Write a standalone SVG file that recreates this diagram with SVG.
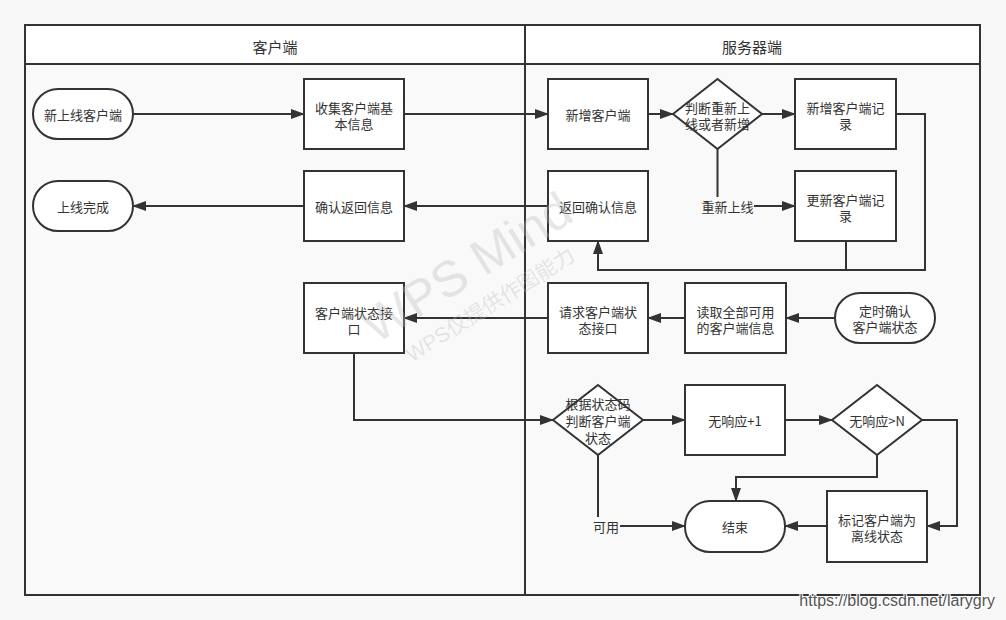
<svg xmlns="http://www.w3.org/2000/svg" width="1006" height="620" viewBox="0 0 1006 620">
<defs>
<style>
.frame{fill:none;stroke:#333;stroke-width:2}
.box{fill:#fff;stroke:#333;stroke-width:2}
.conn{fill:none;stroke:#333;stroke-width:2}
.t{font-family:"Noto Sans CJK SC","Liberation Sans",sans-serif;font-size:13px;fill:#333;text-anchor:middle;dominant-baseline:central}
.h{font-family:"Noto Sans CJK SC","Liberation Sans",sans-serif;font-size:15px;fill:#333;text-anchor:middle;dominant-baseline:central}
.lblbg{fill:#f9f9f9}
.wm{font-family:"Liberation Sans","Noto Sans CJK SC",sans-serif;fill:#bbb;fill-opacity:0.35;text-anchor:middle}
</style>
<marker id="arr" markerUnits="userSpaceOnUse" markerWidth="14" markerHeight="10" viewBox="0 0 14 10" refX="13" refY="5" orient="auto">
<path d="M0,0 L14,5 L0,10 z" fill="#333"/>
</marker>
</defs>
<rect x="0" y="0" width="1006" height="620" fill="#f8f8f8"/>
<g id="swimlanes">
<rect x="25" y="64" width="955" height="531" fill="#f9f9f9"/>
<rect x="25" y="25" width="955" height="39" fill="#fff"/>
<rect class="frame" x="25" y="25" width="955" height="570"/>
<line class="frame" x1="25" y1="64" x2="980" y2="64"/>
<line class="frame" x1="525" y1="25" x2="525" y2="595"/>
<text class="h" x="275" y="46">客户端</text>
<text class="h" x="752" y="46">服务器端</text>
</g>
<g id="connectors">
<path class="conn" d="M133,114 H304" marker-end="url(#arr)"/>
<path class="conn" d="M404,114 H548" marker-end="url(#arr)"/>
<path class="conn" d="M648,114 H673" marker-end="url(#arr)"/>
<path class="conn" d="M762,114 H795" marker-end="url(#arr)"/>
<path class="conn" d="M717.5,149 V206 H795" marker-end="url(#arr)"/>
<path class="conn" d="M896,114 H925 V270 H598 V241" marker-end="url(#arr)"/>
<path class="conn" d="M846,241 V270"/>
<path class="conn" d="M548,206 H404" marker-end="url(#arr)"/>
<path class="conn" d="M304,206 H133" marker-end="url(#arr)"/>
<path class="conn" d="M835,318 H786" marker-end="url(#arr)"/>
<path class="conn" d="M685,318 H648" marker-end="url(#arr)"/>
<path class="conn" d="M548,318 H404" marker-end="url(#arr)"/>
<path class="conn" d="M354,353 V420 H553" marker-end="url(#arr)"/>
<path class="conn" d="M643,420 H685" marker-end="url(#arr)"/>
<path class="conn" d="M785,420 H832" marker-end="url(#arr)"/>
<path class="conn" d="M877,455 V477 H736 V501" marker-end="url(#arr)"/>
<path class="conn" d="M922,420 H957 V526 H927" marker-end="url(#arr)"/>
<path class="conn" d="M827,526 H785" marker-end="url(#arr)"/>
<path class="conn" d="M598,455 V526 H685" marker-end="url(#arr)"/>
<rect class="lblbg" x="701" y="197" width="53" height="18"/>
<text class="t" x="727.5" y="206">重新上线</text>
<rect class="lblbg" x="592" y="517" width="28" height="18"/>
<text class="t" x="606" y="526">可用</text>
</g>
<g id="n_new_client">
<rect class="box" x="33" y="89" width="100" height="50" rx="25" ry="25"/>
<text class="t" x="83" y="114">新上线客户端</text>
</g>
<g id="n_collect">
<rect class="box" x="304" y="79" width="100" height="70"/>
<text class="t" x="354" y="107">收集客户端基<tspan x="354" dy="16">本信息</tspan></text>
</g>
<g id="n_done">
<rect class="box" x="33" y="181" width="100" height="50" rx="25" ry="25"/>
<text class="t" x="83" y="206">上线完成</text>
</g>
<g id="n_confirm">
<rect class="box" x="304" y="171" width="100" height="70"/>
<text class="t" x="354" y="206">确认返回信息</text>
</g>
<g id="n_add">
<rect class="box" x="548" y="79" width="100" height="70"/>
<text class="t" x="598" y="114">新增客户端</text>
</g>
<g id="n_judge">
<polygon class="box" points="717.5,79 762,114 717.5,149 673,114"/>
<text class="t" x="717.5" y="107">判断重新上<tspan x="717.5" dy="16">线或者新增</tspan></text>
</g>
<g id="n_add_record">
<rect class="box" x="795" y="79" width="101" height="70"/>
<text class="t" x="845.5" y="107">新增客户端记<tspan x="845.5" dy="16">录</tspan></text>
</g>
<g id="n_return">
<rect class="box" x="548" y="171" width="100" height="70"/>
<text class="t" x="598" y="206">返回确认信息</text>
</g>
<g id="n_update_record">
<rect class="box" x="795" y="171" width="101" height="70"/>
<text class="t" x="845.5" y="199">更新客户端记<tspan x="845.5" dy="16">录</tspan></text>
</g>
<g id="n_status_api">
<rect class="box" x="304" y="283" width="100" height="70"/>
<text class="t" x="354" y="312">客户端状态接<tspan x="354" dy="16">口</tspan></text>
</g>
<g id="n_request">
<rect class="box" x="548" y="283" width="100" height="70"/>
<text class="t" x="598" y="311">请求客户端状<tspan x="598" dy="16">态接口</tspan></text>
</g>
<g id="n_read">
<rect class="box" x="685" y="283" width="101" height="70"/>
<text class="t" x="735.5" y="311">读取全部可用<tspan x="735.5" dy="16">的客户端信息</tspan></text>
</g>
<g id="n_timer">
<rect class="box" x="835" y="293" width="100" height="50" rx="25" ry="25"/>
<text class="t" x="885" y="310">定时确认<tspan x="885" dy="16">客户端状态</tspan></text>
</g>
<g id="n_judge_status">
<polygon class="box" points="598,385 643,420 598,455 553,420"/>
<text class="t" x="598" y="403">根据状态码<tspan x="598" dy="17">判断客户端</tspan><tspan x="598" dy="17">状态</tspan></text>
</g>
<g id="n_noresp">
<rect class="box" x="685" y="385" width="100" height="70"/>
<text class="t" x="735" y="420">无响应+1</text>
</g>
<g id="n_gtN">
<polygon class="box" points="877,385 922,420 877,455 832,420"/>
<text class="t" x="877" y="420">无响应&gt;N</text>
</g>
<g id="n_end">
<rect class="box" x="685" y="501" width="100" height="51" rx="25" ry="25"/>
<text class="t" x="735" y="526">结束</text>
</g>
<g id="n_mark_offline">
<rect class="box" x="827" y="491" width="100" height="71"/>
<text class="t" x="877" y="519">标记客户端为<tspan x="877" dy="16">离线状态</tspan></text>
</g>
<g id="watermark" transform="translate(476,282) rotate(-32)">
<text class="wm" x="0" y="0" font-size="50">WPS Mind</text>
<text class="wm" x="0" y="34" font-size="21">WPS仅提供作图能力</text>
</g>
<text x="995" y="606" text-anchor="end" font-family="Liberation Sans,sans-serif" font-size="16" fill="#555" stroke="#fff" stroke-width="2" paint-order="stroke">https://blog.csdn.net/larygry</text>
</svg>
